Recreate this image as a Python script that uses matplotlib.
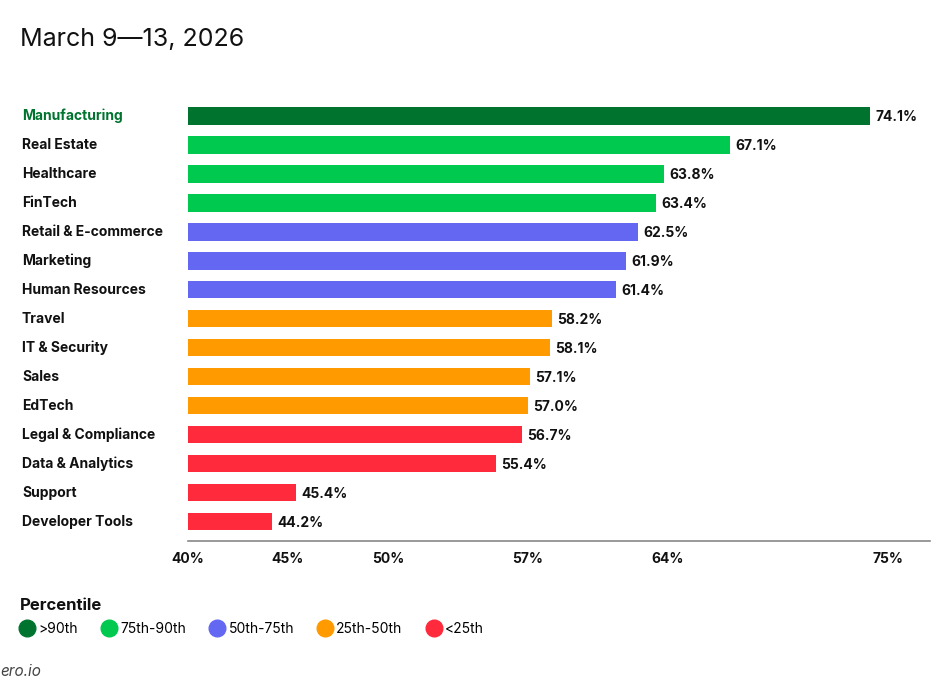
import matplotlib.pyplot as plt
import matplotlib.transforms as mtransforms
from matplotlib.lines import Line2D

plt.rcParams['font.family'] = ['Inter', 'DejaVu Sans']

# data
industries = ["Manufacturing", "Real Estate", "Healthcare", "FinTech",
              "Retail & E-commerce", "Marketing", "Human Resources", "Travel",
              "IT & Security", "Sales", "EdTech", "Legal & Compliance",
              "Data & Analytics", "Support", "Developer Tools"]
values = [74.1, 67.1, 63.8, 63.4, 62.5, 61.9, 61.4, 58.2, 58.1, 57.1, 57.0,
          56.7, 55.4, 45.4, 44.2]
groups = [0, 1, 1, 1, 2, 2, 2, 3, 3, 3, 3, 4, 4, 4, 4]
group_names = [">90th", "75th-90th", "50th-75th", "25th-50th", "<25th"]
group_colors = ["#00742F", "#00C950", "#6467F2", "#FF9A00", "#FF2B3C"]
ticks = [40, 45, 50, 57, 64, 75]

fig = plt.figure(figsize=(9.52, 7), dpi=100)
ax = fig.add_axes([188/952, 1-541/700, (930-188)/952, (541-101.5)/700])

ypos = list(range(len(industries)))
cols = [group_colors[g] for g in groups]
ax.barh(ypos, [v - 40 for v in values], left=40, height=0.59, color=cols)

for y, v in zip(ypos, values):
    ax.text(v + 0.25, y + 0.03, f"{v}%", va='center', ha='left', fontsize=10,
            fontweight='bold', color='#111111')

ax.set_xlim(40, 77.1)
ax.set_ylim(14.66, -0.5)
ax.set_xticks(ticks)
ax.set_xticklabels([f"{t}%" for t in ticks], fontsize=10, fontweight='bold', color='#111111')
ax.tick_params(axis='x', length=0, pad=8)
ax.set_yticks([])
for s in ['top', 'right', 'left']:
    ax.spines[s].set_visible(False)
ax.spines['bottom'].set_color('#888888')
ax.spines['bottom'].set_linewidth(1.2)

# category labels at the left edge of the figure
trans = mtransforms.blended_transform_factory(fig.transFigure, ax.transData)
for y, name, g in zip(ypos, industries, groups):
    c = group_colors[0] if g == 0 else '#111111'
    ax.text(22/952, y, name, transform=trans,
            ha='left', va='center', fontsize=10, fontweight='bold', color=c)

fig.text(20/952, 1-39/700, "March 9\u201413, 2026", fontsize=18, va='center', ha='left', color='#111111')

fig.text(20/952, 1-606/700, "Percentile", fontsize=12, fontweight='bold', va='center', color='#111111')
handles = [Line2D([], [], marker='o', linestyle='none', markersize=12,
                  markerfacecolor=c, markeredgecolor=c) for c in group_colors]
fig.legend(handles, group_names, loc='center left', bbox_to_anchor=(19/952, 1-629/700),
           ncol=5, frameon=False, fontsize=10, handlelength=1.2, handletextpad=0.2,
           columnspacing=1.65, borderpad=0, borderaxespad=0)

fig.text(0, 1-671/700, "ero.io", fontsize=11, style='italic', color='#444444', va='center')

fig.savefig("out.png", dpi=100)
